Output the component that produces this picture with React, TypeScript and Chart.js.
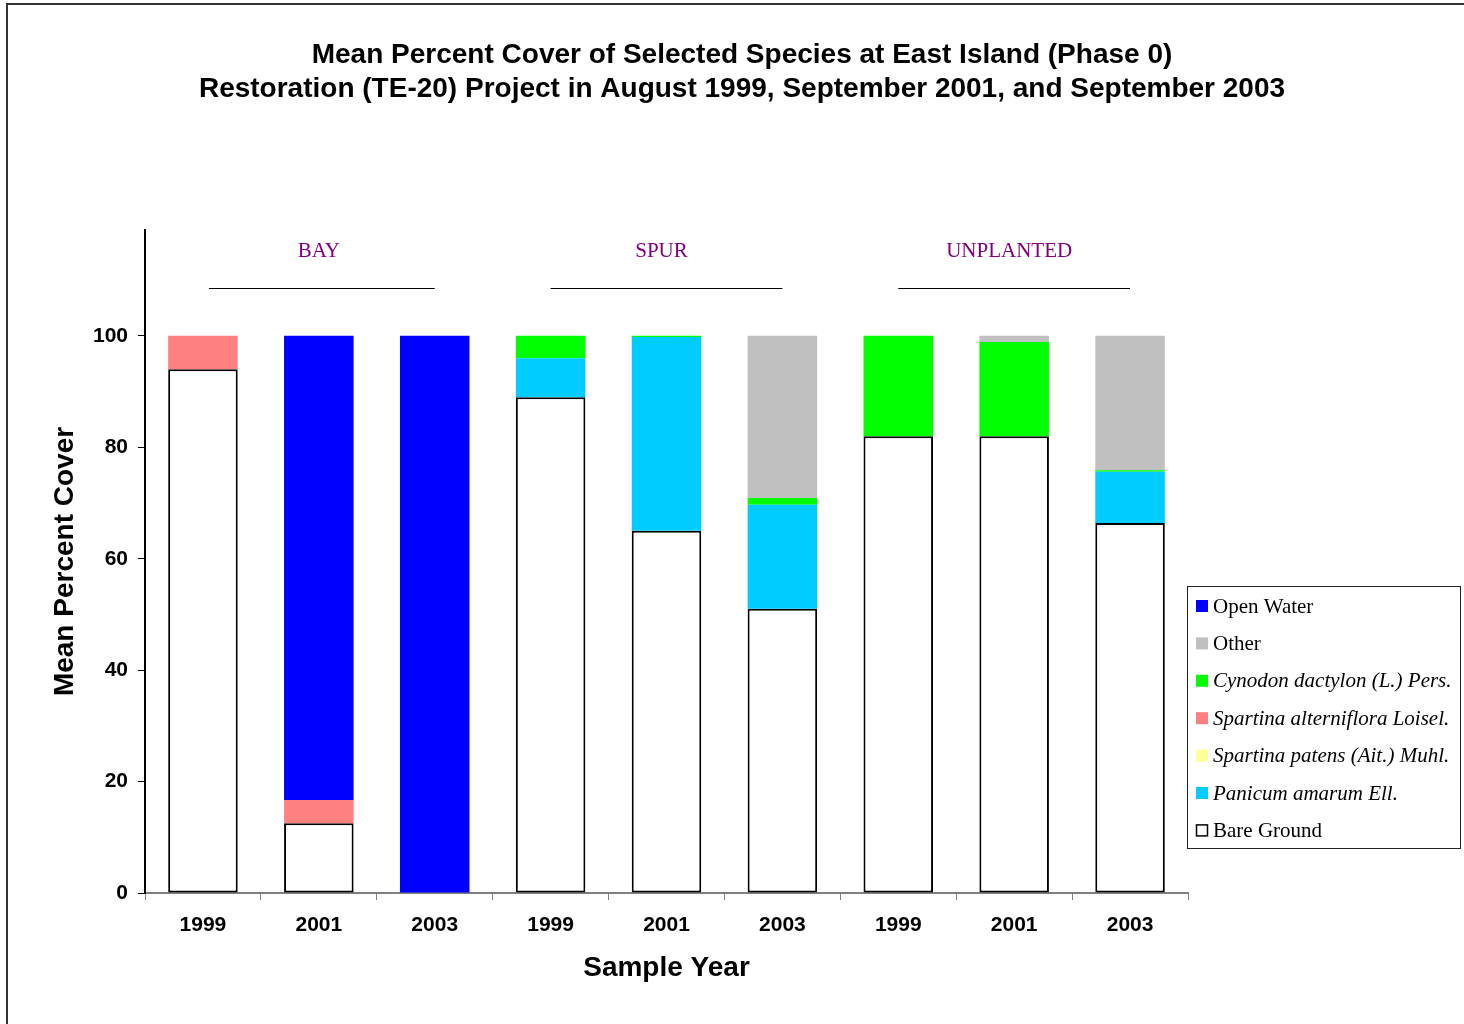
import React, { useEffect, useRef } from "react";
import { Chart, registerables } from "chart.js";

Chart.register(...registerables);

const categories = ["1999", "2001", "2003", "1999", "2001", "2003", "1999", "2001", "2003"];
const groups = ["BAY", "SPUR", "UNPLANTED"];
const bareGround = [94, 12.5, 0, 89, 65, 51, 82, 82, 66.4];
const panicum = [0, 0, 0, 7, 34.8, 18.7, 0, 0, 9.2];
const spartinaPatens = [0, 0, 0, 0, 0, 0, 0, 0, 0];
const spartinaAlt = [6, 4.2, 0, 0, 0, 0, 0, 0, 0];
const cynodon = [0, 0, 0, 4, 0.2, 1.2, 18, 16.9, 0.3];
const other = [0, 0, 0, 0, 0, 29.1, 0, 1.1, 24.1];
const openWater = [0, 83.3, 100, 0, 0, 0, 0, 0, 0];
const yTicks = [0, 20, 40, 60, 80, 100];
const titleLines = [
  "Mean Percent Cover of Selected Species at East Island (Phase 0)",
  "Restoration (TE-20) Project in August 1999, September 2001, and September 2003",
];

const SANS = "'Liberation Sans', Arial, sans-serif";
const SERIF = "'Liberation Serif', 'Times New Roman', serif";

const seriesDefs = [
  { label: "Bare Ground", data: bareGround, color: "#FFFFFF", italic: false, border: true },
  { label: "Panicum amarum Ell.", data: panicum, color: "#00CCFF", italic: true, border: false },
  { label: "Spartina patens (Ait.) Muhl.", data: spartinaPatens, color: "#FFFF99", italic: true, border: false },
  { label: "Spartina alterniflora Loisel.", data: spartinaAlt, color: "#FF8080", italic: true, border: false },
  { label: "Cynodon dactylon (L.) Pers.", data: cynodon, color: "#00FF00", italic: true, border: false },
  { label: "Other", data: other, color: "#C0C0C0", italic: false, border: false },
  { label: "Open Water", data: openWater, color: "#0000FF", italic: false, border: false },
];

const groupLabelShift = [0, -5, -5];

const decorPlugin = {
  id: "decor",
  afterDraw(chart: any) {
    const ctx = chart.ctx;
    const xs = chart.scales.x;
    const area = chart.chartArea;
    ctx.save();
    // outer frame
    ctx.strokeStyle = "#333333";
    ctx.lineWidth = 2;
    ctx.beginPath();
    ctx.moveTo(7, 1030);
    ctx.lineTo(7, 4);
    ctx.lineTo(1470, 4);
    ctx.stroke();

    // title
    ctx.fillStyle = "#000000";
    ctx.font = `bold 28px ${SANS}`;
    ctx.textAlign = "center";
    ctx.textBaseline = "middle";
    ctx.fillText(titleLines[0], 742, 55);
    ctx.fillText(titleLines[1], 742, 89);

    // group labels and lines
    groups.forEach((g, gi) => {
      const x0 = xs.getPixelForValue(gi * 3);
      const x1 = xs.getPixelForValue(gi * 3 + 1);
      const x2 = xs.getPixelForValue(gi * 3 + 2);
      ctx.fillStyle = "#800080";
      ctx.font = `21px ${SERIF}`;
      ctx.textAlign = "center";
      ctx.textBaseline = "middle";
      ctx.fillText(g, x1 + groupLabelShift[gi], area.top + 21);
      ctx.strokeStyle = "#000000";
      ctx.lineWidth = 1;
      ctx.beginPath();
      ctx.moveTo(x0 + (gi === 0 ? 6 : 0), area.top + 58.5);
      ctx.lineTo(x2, area.top + 58.5);
      ctx.stroke();
    });

    // legend
    const lx = 1187.5, ly = 586.5, lw = 273, lh = 262;
    ctx.fillStyle = "#FFFFFF";
    ctx.fillRect(lx, ly, lw, lh);
    ctx.strokeStyle = "#222222";
    ctx.lineWidth = 1;
    ctx.strokeRect(lx, ly, lw, lh);
    const items = [...seriesDefs].reverse();
    items.forEach((it, i) => {
      const cy = 606 + i * 37.4;
      if (it.border) {
        ctx.fillStyle = "#FFFFFF";
        ctx.fillRect(1196, cy - 6, 12, 12);
        ctx.strokeStyle = "#000000";
        ctx.lineWidth = 1.5;
        ctx.strokeRect(1196.5, cy - 5.5, 11, 11);
      } else {
        ctx.fillStyle = it.color;
        ctx.fillRect(1196, cy - 6, 12, 12);
      }
      ctx.fillStyle = "#000000";
      ctx.font = `${it.italic ? "italic " : ""}21px ${SERIF}`;
      ctx.textAlign = "left";
      ctx.textBaseline = "middle";
      ctx.fillText(it.label, 1213, cy + 1);
    });
    ctx.restore();
  },
};

export default function App() {
  const ref = useRef<HTMLCanvasElement | null>(null);
  useEffect(() => {
    if (!ref.current) return;
    const chart = new Chart(ref.current, {
      type: "bar",
      data: {
        labels: categories,
        datasets: seriesDefs.map((s) => ({
          label: s.label,
          data: s.data,
          backgroundColor: s.color,
          borderColor: s.border ? "#000000" : s.color,
          borderWidth: s.border ? 2 : 0,
          borderSkipped: false,
          categoryPercentage: 1,
          barPercentage: 0.6,
        })),
      },
      options: {
        responsive: false,
        animation: false,
        devicePixelRatio: 1,
        layout: { padding: { top: 230, right: 276, left: 0, bottom: 0 } },
        plugins: {
          legend: { display: false },
          title: { display: false },
          tooltip: { enabled: false },
        },
        scales: {
          x: {
            stacked: true,
            afterFit: (s: any) => {
              s.height = 131;
            },
            grid: {
              drawOnChartArea: false,
              drawTicks: true,
              tickLength: 7,
              color: "#808080",
              offset: true,
            },
            border: { display: true, color: "#808080", width: 2 },
            ticks: {
              color: "#000000",
              font: { family: SANS, size: 21, weight: "bold" },
              padding: 13,
              maxRotation: 0,
              autoSkip: false,
            },
            title: {
              display: true,
              text: "Sample Year",
              color: "#000000",
              font: { family: SANS, size: 28, weight: "bold" },
              padding: { top: 0, bottom: 39 },
            },
          },
          y: {
            stacked: true,
            min: 0,
            max: 119,
            afterFit: (s: any) => {
              s.width = 145;
            },
            afterBuildTicks: (s: any) => {
              s.ticks = yTicks.map((v) => ({ value: v }));
            },
            grid: {
              drawOnChartArea: false,
              drawTicks: true,
              tickLength: 7,
              color: "#000000",
            },
            border: { display: true, color: "#000000", width: 2 },
            ticks: {
              color: "#000000",
              font: { family: SANS, size: 21, weight: "bold" },
              padding: 10,
            },
            title: {
              display: true,
              text: "Mean Percent Cover",
              color: "#000000",
              font: { family: SANS, size: 28, weight: "bold" },
              padding: { top: 48, bottom: 0 },
            },
          },
        },
      },
      plugins: [decorPlugin],
    } as any);
    return () => chart.destroy();
  }, []);
  return (
    <div style={{ position: "fixed", left: 0, top: 0, width: 1464, height: 1024, background: "#FFFFFF" }}>
      <canvas ref={ref} width={1464} height={1024} style={{ display: "block", width: 1464, height: 1024 }} />
    </div>
  );
}
